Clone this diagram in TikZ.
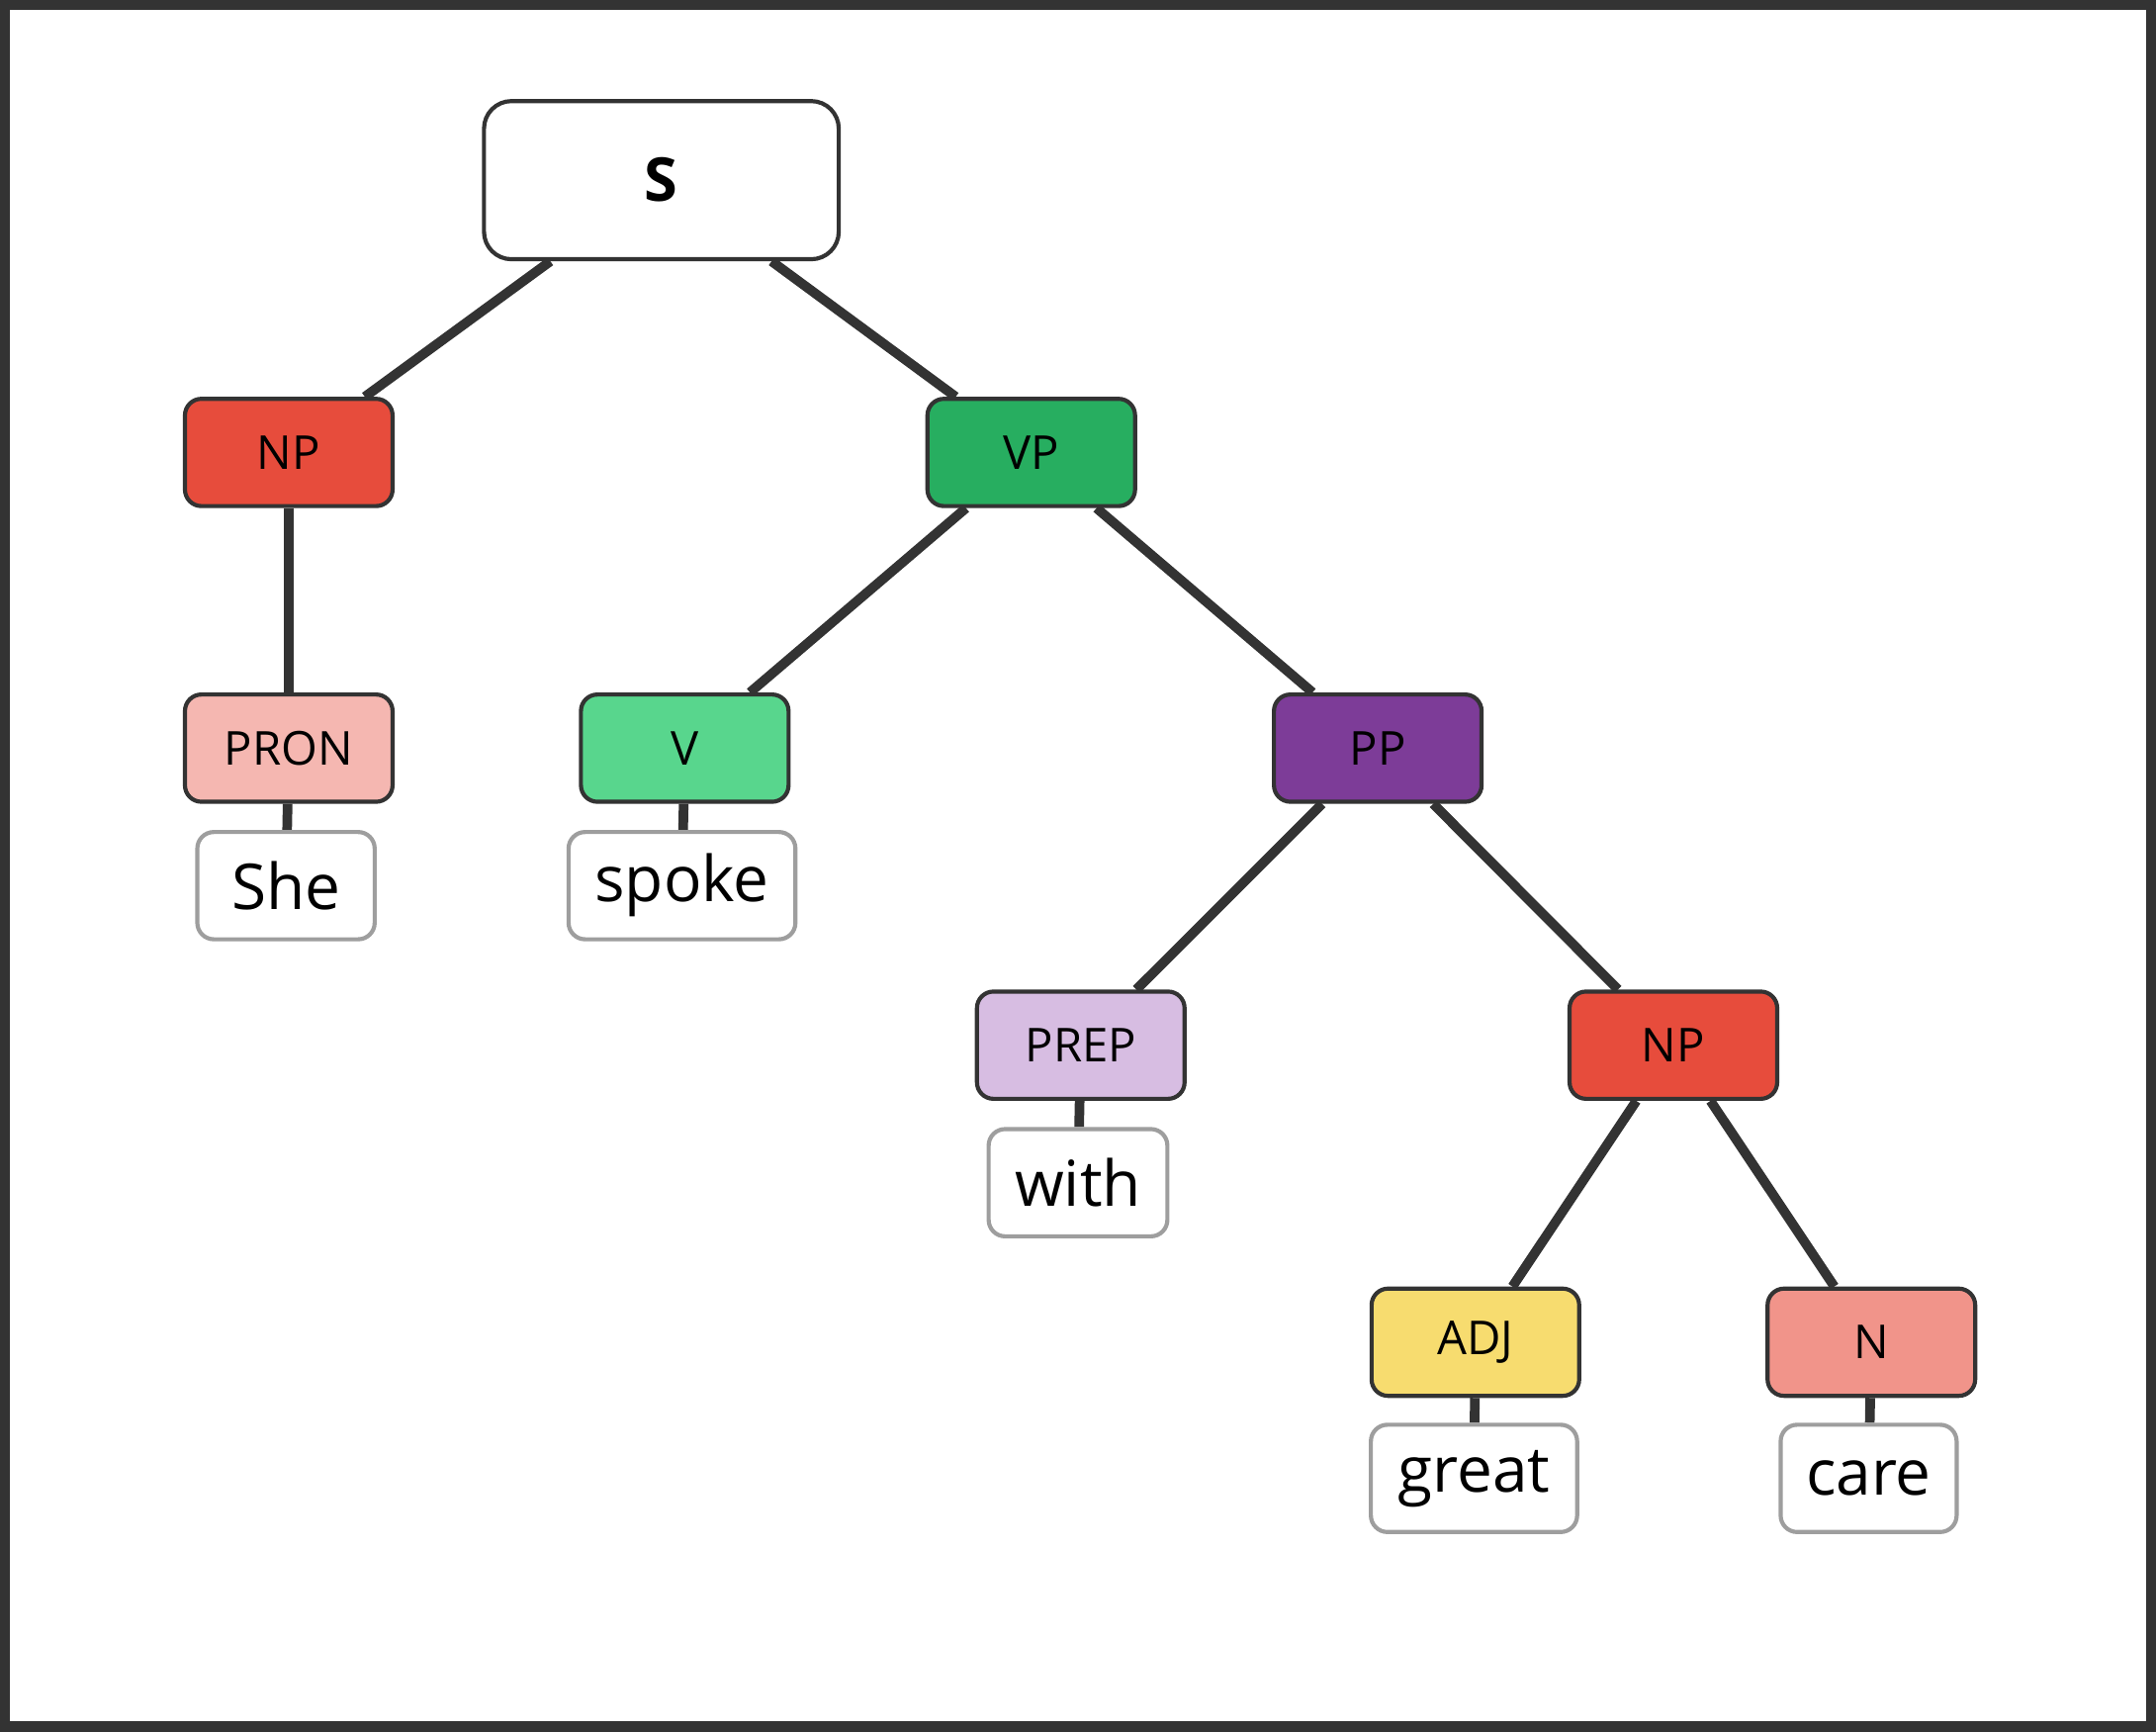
\documentclass[tikz,border=0pt]{standalone}
\usepackage{fontspec}
\setmainfont{Open Sans}
\usetikzlibrary{backgrounds}
\definecolor{edgegray}{HTML}{333333}
\definecolor{wordgray}{HTML}{9E9E9E}
\tikzset{
  cat/.style={draw=edgegray, line width=1.5pt, rounded corners=6pt, minimum width=75.5pt, minimum height=39pt, inner sep=0pt, font=\fontsize{17}{20}\selectfont},
  word/.style={draw=wordgray, line width=1.5pt, rounded corners=6pt, fill=white, minimum height=39pt, inner sep=0pt, font=\fontsize{23}{27}\selectfont},
  branch/.style={draw=edgegray, line width=3.5pt},
}
\begin{document}
\begin{tikzpicture}[x=0.5pt,y=-0.5pt]
\useasboundingbox (0,0) rectangle (1568,1259);
\draw[edgegray, line width=5pt] (2.5,2.5) rectangle (1565.5,1256.5);
% categories
\node[cat, fill=white, minimum width=129pt, minimum height=57.5pt, rounded corners=10pt, font=\fontsize{22}{26}\selectfont\bfseries] (s) at (481,131) {S};
\node[cat, fill={rgb,255:red,231;green,76;blue,60}] (np) at (210,329) {NP};
\node[cat, fill={rgb,255:red,39;green,174;blue,96}] (vp) at (750,329) {VP};
\node[cat, fill={rgb,255:red,245;green,183;blue,177}] (pron) at (210,544) {PRON};
\node[cat, fill={rgb,255:red,88;green,214;blue,141}] (v) at (498,544) {V};
\node[cat, fill={rgb,255:red,125;green,60;blue,152}] (pp) at (1002,544) {PP};
\node[cat, fill={rgb,255:red,215;green,189;blue,226}] (prep) at (786,760) {PREP};
\node[cat, fill={rgb,255:red,231;green,76;blue,60}] (np2) at (1217,760) {NP};
\node[cat, fill={rgb,255:red,247;green,220;blue,111}] (adj) at (1073,976) {ADJ};
\node[cat, fill={rgb,255:red,241;green,148;blue,138}] (n) at (1361,976) {N};
% words
\node[word, minimum width=64.5pt] (she) at (208,644) {She};
\node[word, minimum width=82.5pt] (spoke) at (496,644) {spoke};
\node[word, minimum width=65pt] (with) at (784,860) {with};
\node[word, minimum width=75pt] (great) at (1072,1075) {great};
\node[word, minimum width=64pt] (care) at (1359,1075) {care};
%Branches
\begin{pgfonlayer}{background}
\draw[branch] (s) -- (np);
\draw[branch] (s) -- (vp);
\draw[branch] (np) -- (pron);
\draw[branch] (vp) -- (v);
\draw[branch] (vp) -- (pp);
\draw[branch] (pp) -- (prep);
\draw[branch] (pp) -- (np2);
\draw[branch] (np2) -- (adj);
\draw[branch] (np2) -- (n);
\draw[branch] (pron) -- (she);
\draw[branch] (v) -- (spoke);
\draw[branch] (prep) -- (with);
\draw[branch] (adj) -- (great);
\draw[branch] (n) -- (care);
\end{pgfonlayer}
\end{tikzpicture}
\end{document}
